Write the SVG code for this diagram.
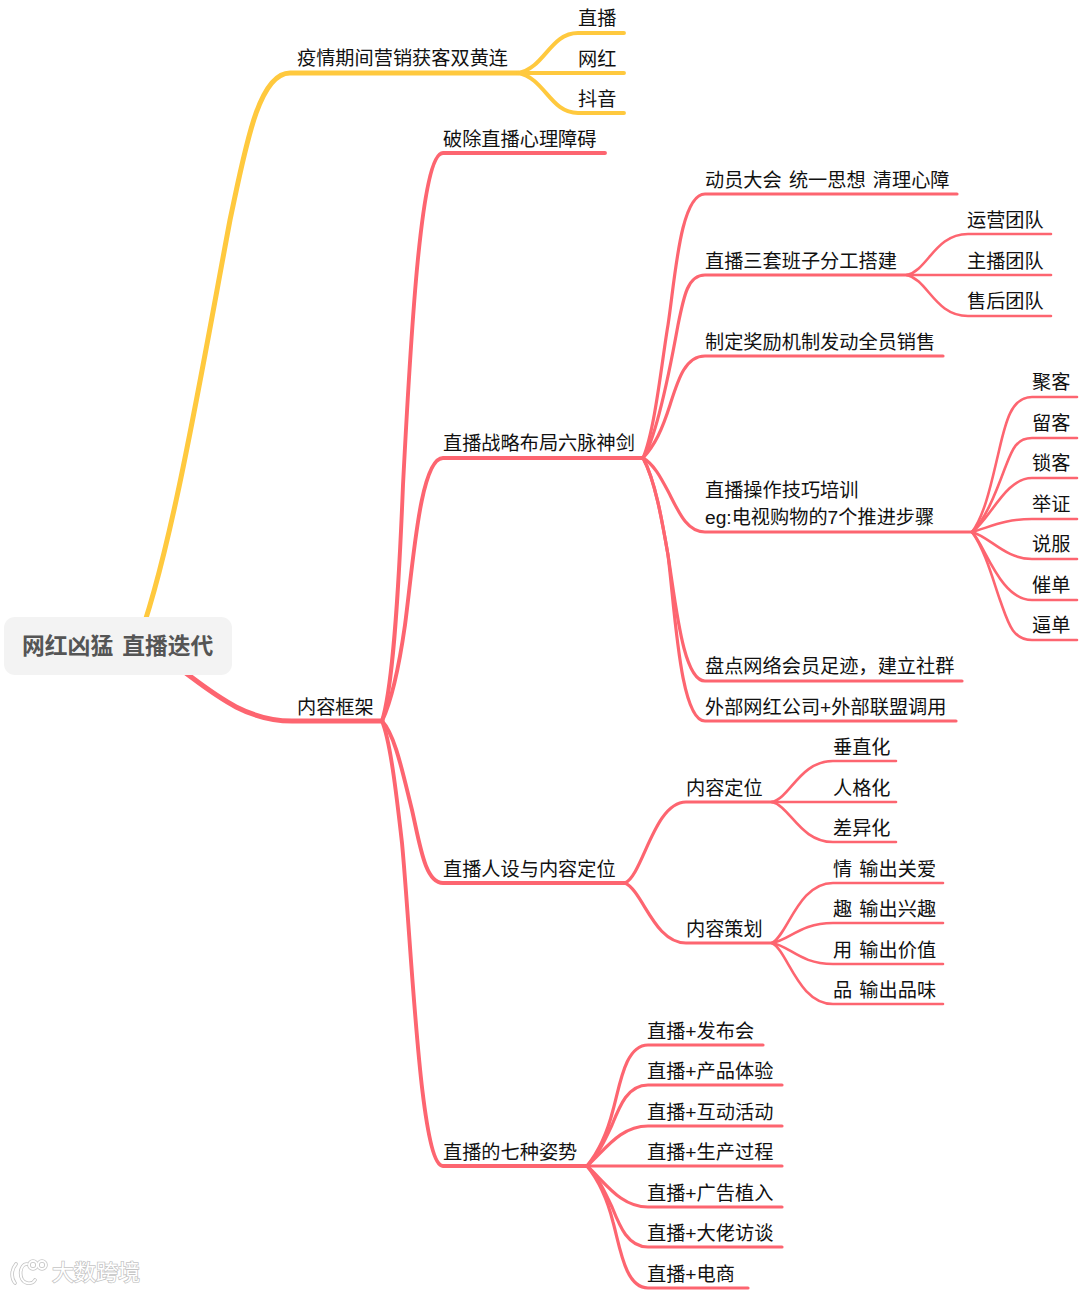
<svg xmlns="http://www.w3.org/2000/svg" width="1080" height="1292" viewBox="0 0 1080 1292">
<style>
text{font-family:"Liberation Sans","Noto Sans CJK SC",sans-serif;font-size:19.2px;fill:#111}
.sp{word-spacing:1.8px}
.c{fill:none;stroke:#fd6570;stroke-linecap:round;stroke-linejoin:round}
.y{fill:none;stroke:#ffc93e;stroke-linecap:round}
.w4{stroke-width:5}.w3{stroke-width:3.9}.w2{stroke-width:3.2}.w1{stroke-width:2.6}
.root{font-size:22.8px;font-weight:700;fill:#555;word-spacing:2.7px}
.wm{font-size:22px;fill:#fff;stroke:#c4c4c4;stroke-width:1.5;paint-order:stroke}
.lg{fill:none;stroke:#c4c4c4;stroke-width:3.6;stroke-linecap:round}
.lw{fill:none;stroke:#fff;stroke-width:2;stroke-linecap:round}
</style>
<rect width="1080" height="1292" fill="#fff"/>
<g id="connectors">
<path class="y w4" d="M135 650C170 560 200 380 230 220C245 150 258 73 290 73H518"/>
<path class="y w3" d="M518 73C545 68 550 33 578 33H624"/>
<path class="y w3" d="M518 73H624"/>
<path class="y w3" d="M518 73C545 78 550 113 578 113H624"/>
<path class="c w4" d="M160 655C200 680 235 721 292 721H382"/>
<path class="c w3" d="M382 721C392 690 398 610 403 485C411 330 421 153 443 153H605"/>
<path class="c w3" d="M382 721C392 700 400 660 405 625C413 565 420 458 443 458H643"/>
<path class="c w3" d="M382 721C395 735 402 770 412 810C420 845 425 883 443 883H625"/>
<path class="c w3" d="M382 721C390 740 396 790 402 843C412 950 420 1166 443 1166H587"/>
<path class="c w2" d="M643 458C655 430 662 360 668 325C675 280 680 194 705 194H957"/>
<path class="c w2" d="M643 458C655 440 668 380 678 325C684 295 688 275 705 275H907"/>
<path class="c w2" d="M643 458C655 445 662 430 670 405C678 380 685 356 705 356H943"/>
<path class="c w2" d="M643 458C655 465 662 480 670 495C680 515 688 532 705 532H972"/>
<path class="c w2" d="M643 458C655 480 662 520 668 555C676 605 683 681 705 681H962"/>
<path class="c w2" d="M643 458C655 480 662 520 668 555C675 610 680 721 705 721H956"/>
<path class="c w1" d="M907 275C928 270 935 234 968 234H1051"/>
<path class="c w1" d="M907 275H1051"/>
<path class="c w1" d="M907 275C928 280 935 316 968 316H1051"/>
<path class="c w1" d="M972 532C985 515 992 480 998 455C1005 425 1010 397 1032 397H1077"/>
<path class="c w1" d="M972 532C985 520 995 495 1005 468C1012 450 1016 438 1032 438H1077"/>
<path class="c w1" d="M972 532C990 520 1005 478 1032 478H1077"/>
<path class="c w1" d="M972 532C990 527 1005 519 1032 519H1077"/>
<path class="c w1" d="M972 532C990 537 1005 559 1032 559H1077"/>
<path class="c w1" d="M972 532C985 545 1000 600 1032 600H1077"/>
<path class="c w1" d="M972 532C985 550 993 580 1000 600C1008 622 1012 640 1032 640H1077"/>
<path class="c w2" d="M625 883C643 875 654 802 686 802H772"/>
<path class="c w2" d="M625 883C643 891 654 943 686 943H772"/>
<path class="c w1" d="M772 802C790 798 800 761 833 761H896"/>
<path class="c w1" d="M772 802H896"/>
<path class="c w1" d="M772 802C790 806 800 842 833 842H896"/>
<path class="c w1" d="M772 943C788 935 798 883 833 883H943"/>
<path class="c w1" d="M772 943C790 940 800 923 833 923H943"/>
<path class="c w1" d="M772 943C790 946 800 964 833 964H943"/>
<path class="c w1" d="M772 943C788 951 798 1004 833 1004H943"/>
<path class="c w2" d="M587 1166C600 1150 608 1130 613 1110C620 1085 625 1045 648 1045H763"/>
<path class="c w2" d="M587 1166C598 1155 605 1140 612 1125C620 1105 628 1085 648 1085H782"/>
<path class="c w2" d="M587 1166C605 1150 620 1126 648 1126H782"/>
<path class="c w2" d="M587 1166H782"/>
<path class="c w2" d="M587 1166C605 1182 620 1207 648 1207H782"/>
<path class="c w2" d="M587 1166C598 1177 605 1192 612 1207C620 1227 628 1247 648 1247H782"/>
<path class="c w2" d="M587 1166C600 1182 608 1202 613 1222C620 1247 625 1288 648 1288H748"/>
</g>
<g id="root"><rect x="4" y="617" width="228" height="58" rx="11" fill="#f3f3f3"/><text class="root" x="22" y="654">网红凶猛 直播迭代</text></g>
<g id="n1"><text x="297" y="65">疫情期间营销获客双黄连</text></g>
<g id="n1a"><text x="578" y="25">直播</text></g>
<g id="n1b"><text x="578" y="66">网红</text></g>
<g id="n1c"><text x="578" y="106">抖音</text></g>
<g id="n2"><text x="297" y="714">内容框架</text></g>
<g id="n3"><text x="443" y="146">破除直播心理障碍</text></g>
<g id="n4"><text x="443" y="450">直播战略布局六脉神剑</text></g>
<g id="n5"><text class="sp" x="705" y="187">动员大会 统一思想 清理心障</text></g>
<g id="n6"><text x="705" y="268">直播三套班子分工搭建</text></g>
<g id="n6a"><text x="967" y="227">运营团队</text></g>
<g id="n6b"><text x="967" y="268">主播团队</text></g>
<g id="n6c"><text x="967" y="308">售后团队</text></g>
<g id="n7"><text x="705" y="349">制定奖励机制发动全员销售</text></g>
<g id="n8"><text x="705" y="497">直播操作技巧培训</text><text x="705" y="524">eg:电视购物的7个推进步骤</text></g>
<g id="n8a"><text x="1032" y="389">聚客</text></g>
<g id="n8b"><text x="1032" y="430">留客</text></g>
<g id="n8c"><text x="1032" y="470">锁客</text></g>
<g id="n8d"><text x="1032" y="511">举证</text></g>
<g id="n8e"><text x="1032" y="551">说服</text></g>
<g id="n8f"><text x="1032" y="592">催单</text></g>
<g id="n8g"><text x="1032" y="632">逼单</text></g>
<g id="n9"><text x="705" y="673">盘点网络会员足迹，建立社群</text></g>
<g id="n10"><text x="705" y="714">外部网红公司+外部联盟调用</text></g>
<g id="n11"><text x="443" y="876">直播人设与内容定位</text></g>
<g id="n12"><text x="686" y="795">内容定位</text></g>
<g id="n12a"><text x="833" y="754">垂直化</text></g>
<g id="n12b"><text x="833" y="795">人格化</text></g>
<g id="n12c"><text x="833" y="835">差异化</text></g>
<g id="n13"><text x="686" y="936">内容策划</text></g>
<g id="n13a"><text class="sp" x="833" y="876">情 输出关爱</text></g>
<g id="n13b"><text class="sp" x="833" y="916">趣 输出兴趣</text></g>
<g id="n13c"><text class="sp" x="833" y="957">用 输出价值</text></g>
<g id="n13d"><text class="sp" x="833" y="997">品 输出品味</text></g>
<g id="n14"><text x="443" y="1159">直播的七种姿势</text></g>
<g id="n14a"><text x="647" y="1038">直播+发布会</text></g>
<g id="n14b"><text x="647" y="1078">直播+产品体验</text></g>
<g id="n14c"><text x="647" y="1119">直播+互动活动</text></g>
<g id="n14d"><text x="647" y="1159">直播+生产过程</text></g>
<g id="n14e"><text x="647" y="1200">直播+广告植入</text></g>
<g id="n14f"><text x="647" y="1240">直播+大佬访谈</text></g>
<g id="n14g"><text x="647" y="1281">直播+电商</text></g>
<g id="watermark">
<path class="lg" d="M16 1264C11 1270 11 1278 15 1283M27 1264C19 1264 18 1281 27 1283C31 1284 34 1282 35 1280"/>
<circle class="lg" cx="33" cy="1265" r="4"/><circle class="lg" cx="42" cy="1265" r="4"/>
<path class="lw" d="M16 1264C11 1270 11 1278 15 1283M27 1264C19 1264 18 1281 27 1283C31 1284 34 1282 35 1280"/>
<circle class="lw" cx="33" cy="1265" r="4"/><circle class="lw" cx="42" cy="1265" r="4"/>
<text class="wm" x="52" y="1280">大数跨境</text>
</g>
</svg>
